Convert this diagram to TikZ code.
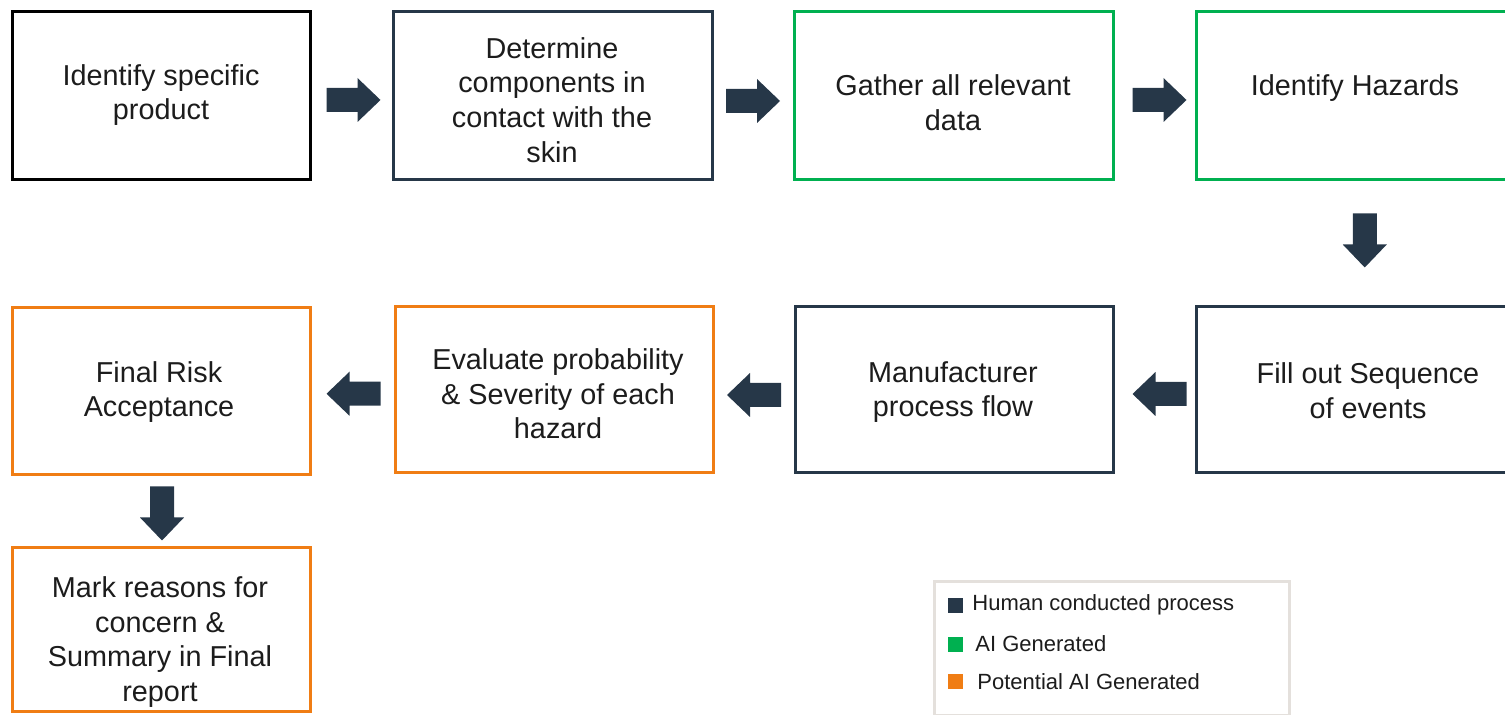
\documentclass[tikz,border=0pt]{standalone}
\usepackage{fontspec}
\setmainfont{Liberation Sans}
\usetikzlibrary{calc}
\definecolor{navy}{HTML}{263748}
\definecolor{aigreen}{HTML}{00B050}
\definecolor{aiorange}{HTML}{F07D14}
\definecolor{legborder}{HTML}{E4E0DC}
\definecolor{txtcol}{HTML}{1C1C1C}
\begin{document}
\begin{tikzpicture}[x=0.5pt,y=-0.5pt,
  box/.style={draw, line width=1.5pt, fill=white, inner sep=0pt, minimum height=84pt},
  human/.style={box, draw=navy},
  first/.style={box, draw=black},
  green/.style={box, draw=aigreen},
  orange/.style={box, draw=aiorange},
  txt/.style={align=center, text=txtcol, font=\fontsize{14.4}{17.3}\selectfont, inner sep=0pt},
  legtxt/.style={anchor=west, text=txtcol, font=\fontsize{11}{13}\selectfont, inner sep=0pt},
  legsq/.style={minimum size=7.5pt, inner sep=0pt},
  blockarrow/.pic={\fill[navy] (-27,-12) -- (4,-12) -- (4,-22) -- (27,0) -- (4,22) -- (4,12) -- (-27,12) -- cycle;}
]
\useasboundingbox (0,0) rectangle (1505,715);
% row 1
\node[first, minimum width=149pt] (b1) at (161,96) {};
\node[human, minimum width=159.5pt] (b2) at (552.5,96) {};
\node[green, minimum width=159.5pt] (b3) at (953.5,96) {};
\node[green, minimum width=159.5pt] (b4) at (1355.5,96) {};
% row 2
\node[orange, minimum width=149pt, minimum height=83.5pt] (bA) at (161,391.5) {};
\node[orange, minimum width=159pt, minimum height=83pt] (bB) at (554,390) {};
\node[human, minimum width=159pt, minimum height=83pt] (bC) at (954,390) {};
\node[human, minimum width=172pt, minimum height=83pt] (bD) at (1368,390) {};
% row 3
\node[orange, minimum width=149pt, minimum height=82pt] (bE) at (161,630) {};
% texts
\node[txt] (t1) at (161,95) {Identify specific\\product};
\node[txt] (t2) at (552,100) {Determine\\components in\\contact with the\\skin};
\node[txt] (t3) at (953,103) {Gather all relevant\\data};
\node[txt] (t4) at (1355,88) {Identify Hazards};
\node[txt] (tA) at (159,392) {Final Risk\\Acceptance};
\node[txt] (tB) at (558,394) {Evaluate probability\\\& Severity of each\\hazard};
\node[txt] (tC) at (953,392) {Manufacturer\\process flow};
\node[txt] (tD) at (1368,391) {Fill out Sequence\\of events};
\node[txt] (tE) at (160,642) {Mark reasons for\\concern \&\\Summary in Final\\report};
% block arrows
\pic at ($(b1.east)!0.5!(b2.west)+(2,4)$) {blockarrow};
\pic at ($(b2.east)!0.5!(b3.west)+(0,5)$) {blockarrow};
\pic at ($(b3.east)!0.5!(b4.west)+(5,4)$) {blockarrow};
\pic[rotate=-90] at ($(b4.south)!0.5!(bD.north)+(3,-3)$) {blockarrow};
\pic[rotate=180] at ($(bA.east)!0.5!(bB.west)+(1,3)$) {blockarrow};
\pic[rotate=180] at ($(bB.east)!0.5!(bC.west)+(0,5)$) {blockarrow};
\pic[rotate=180] at ($(bC.east)!0.5!(bD.west)+(5,4)$) {blockarrow};
\pic[rotate=-90] at ($(bA.south)!0.5!(bE.north)+(1,2)$) {blockarrow};
% legend
\node[draw=legborder, line width=1.5pt, fill=white, minimum width=177.5pt, minimum height=67pt, inner sep=0pt] (leg) at (1112,649) {};
\node[legsq, fill=navy] (s1) at (955.5,605.5) {};
\node[legsq, fill=aigreen] (s2) at (955.5,644.5) {};
\node[legsq, fill=aiorange] (s3) at (955.5,682) {};
\node[legtxt] (l1) at (972,605) {Human conducted process};
\node[legtxt] (l2) at (975,644) {AI Generated};
\node[legtxt] (l3) at (977,682) {Potential AI Generated};
\end{tikzpicture}
\end{document}
